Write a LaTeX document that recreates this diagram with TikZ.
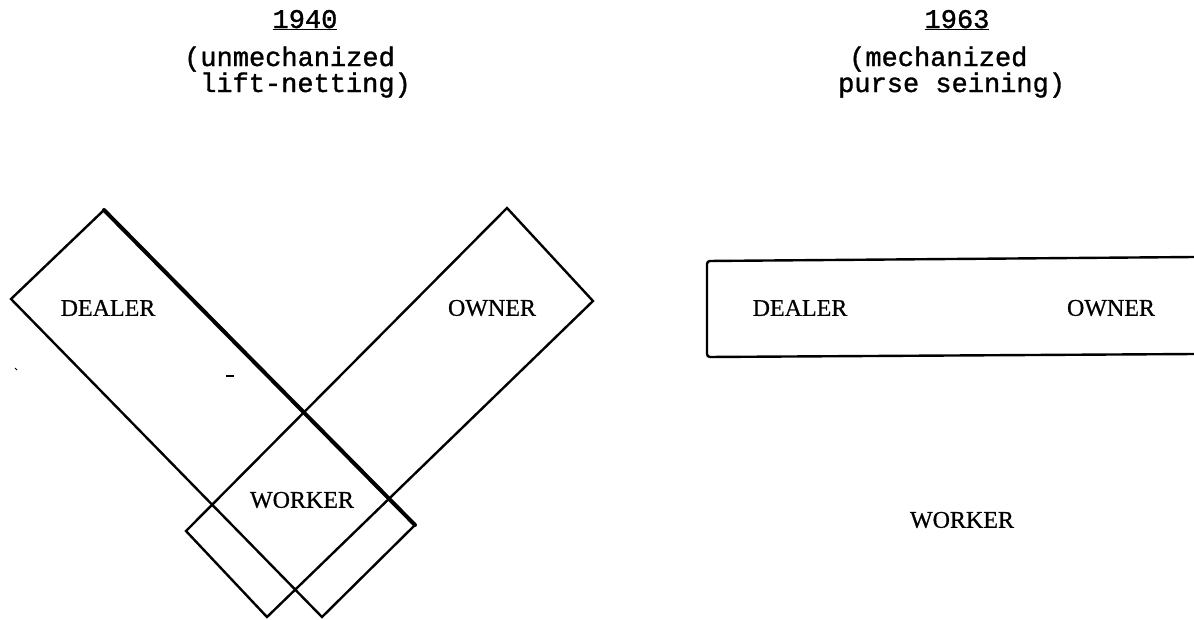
\documentclass[tikz,border=0pt]{standalone}
\usepackage{fontspec}
\setmainfont{Liberation Serif}
\newfontfamily\labelfont{Liberation Serif}[FakeBold=0.6]
\newfontfamily\headfont{Liberation Mono}[FakeBold=1.2]
\begin{document}
\begin{tikzpicture}[x=1pt,y=-1pt,
  edge/.style={line width=2.4pt, line join=miter, line cap=round},
  thickedge/.style={line width=4pt, line cap=round},
  lbl/.style={font=\labelfont\fontsize{24}{26}\selectfont, inner sep=0pt},
  head/.style={font=\headfont\fontsize{27}{29}\selectfont, inner sep=0pt, anchor=base west}]
\useasboundingbox (0,0) rectangle (1194,619);
% headers
\node[head, anchor=base] (y1) at (305,28) {\underline{1940}};
\node[head] (h1a) at (184,66) {(unmechanized};
\node[head] (h1b) at (200,92) {lift-netting)};
\node[head, anchor=base] (y2) at (957,28) {\underline{1963}};
\node[head] (h2a) at (849,66) {(mechanized};
\node[head] (h2b) at (838,92) {purse seining)};
% left: dealer rectangle
\coordinate (dT) at (104,210);
\coordinate (dL) at (11,299);
\coordinate (dB) at (322,617);
\coordinate (dR) at (415,525);
\draw[edge] (dT) -- (dL) -- (dB) -- (dR);
\draw[thickedge] (dT) -- (dR);
% left: owner rectangle
\coordinate (oT) at (507,208);
\coordinate (oR) at (593,301);
\coordinate (oB) at (267,617);
\coordinate (oL) at (186,531);
\draw[edge] (oT) -- (oR) -- (oB) -- (oL) -- cycle;
% stray marks
\coordinate (m1) at (226,376);
\coordinate (m2) at (234,376);
\draw[line width=2.5pt] (m1) -- (m2);
\coordinate (m3) at (15,368);
\coordinate (m4) at (17,370);
\draw[line width=1pt] (m3) -- (m4);
\node[lbl] (ld) at (108,308) {DEALER};
\node[lbl] (lo) at (492,308) {OWNER};
\node[lbl] (lw) at (302,500) {WORKER};
% right
\coordinate (rTR) at (1194,257);
\coordinate (rTL) at (707,261);
\coordinate (rBL) at (707,357);
\coordinate (rBR) at (1194,354);
\draw[edge, rounded corners=3pt] (rTR) -- (rTL) -- (rBL) -- (rBR);
\node[lbl] (rd) at (800,308) {DEALER};
\node[lbl] (ro) at (1111,308) {OWNER};
\node[lbl] (rw) at (962,520) {WORKER};
\end{tikzpicture}
\end{document}
